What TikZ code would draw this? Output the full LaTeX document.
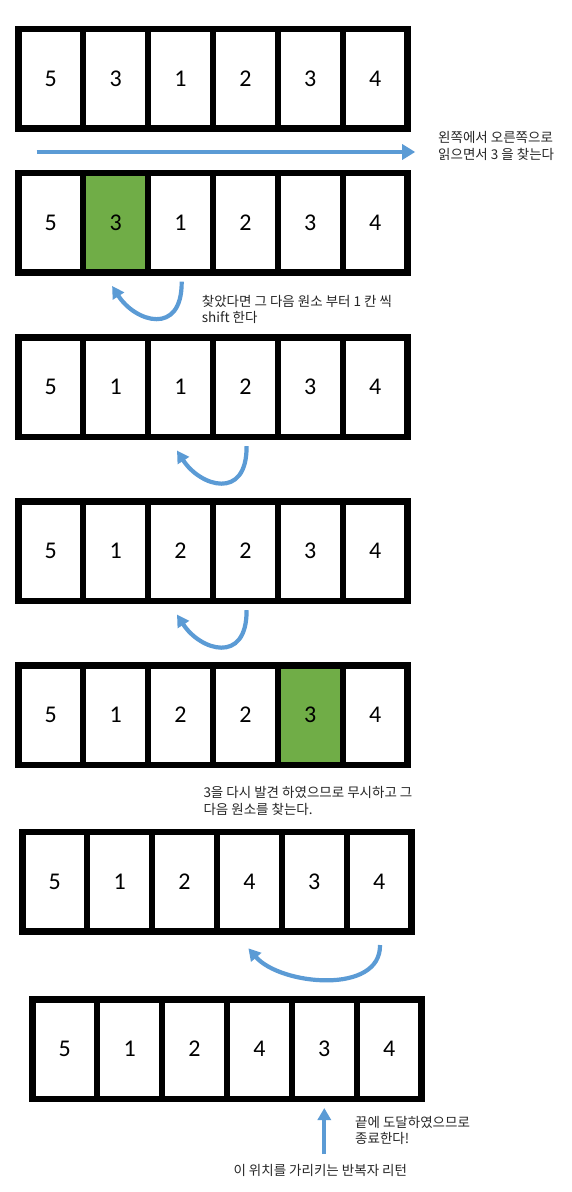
\documentclass[tikz,border=0pt]{standalone}
\usepackage{fontspec}
\setmainfont{Carlito}
\newfontfamily\krfont{Noto Sans CJK KR}
\usetikzlibrary{arrows.meta,calc}
\definecolor{arrowblue}{HTML}{5B9BD5}
\definecolor{cellgreen}{HTML}{70AD47}
\begin{document}
\begin{tikzpicture}[x=1pt,y=-1pt,
  cell/.style={draw=black, line width=6.5pt, minimum width=64.9pt, minimum height=99.5pt,
    inner sep=0pt, font=\fontsize{24}{28}\selectfont},
  note/.style={font=\krfont\fontsize{13.5}{16.5}\selectfont, align=left, anchor=west,
    inner sep=0pt, text=black!85},
  flow/.style={draw=arrowblue, line width=4.2pt, -{Triangle[length=12pt,width=13pt]}},
  bigflow/.style={draw=arrowblue, line width=4.6pt, -{Triangle[length=13pt,width=15pt]}}]
\fill[white] (0,0) rectangle (571,1192);
\useasboundingbox (0,0) rectangle (571,1192);

\foreach \row/\L/\T/\vals/\g in {
  1/15/25.5/{5,3,1,2,3,4}/0,
  2/15/169.5/{5,3,1,2,3,4}/2,
  3/15/334/{5,1,1,2,3,4}/0,
  4/15/498/{5,1,2,2,3,4}/0,
  5/15/662/{5,1,2,2,3,4}/5,
  6/19/828.5/{5,1,2,4,3,4}/0,
  7/29/996/{5,1,2,4,3,4}/0}{
  \foreach \v [count=\c] in \vals {
    \ifnum\c=\g \def\cf{cellgreen}\else\def\cf{white}\fi
    \node[cell, fill=\cf] (r\row c\c) at ({\L+3.25+64.9*(\c-0.5)},{\T+53}) {\v};
  }
}

% straight reading arrow
\coordinate (a0s) at ($(r1c1.south)+(-14,20.5)$);
\coordinate (a0e) at ($(r1c6.south)+(40,20.5)$);
\draw[bigflow] (a0s) -- (a0e);

% shift arrows
\coordinate (a1s) at ($(r2c3.south)+(1.2,6.2)$);
\coordinate (a1e) at ($(r2c2.south)+(-3.5,10.5)$);
\draw[flow] (a1s) .. controls ($(a1s)+(0.3,55)$) and ($(a1e)+(23,36)$) .. (a1e);

\coordinate (a2s) at ($(r3c4.south)+(1.2,6.2)$);
\coordinate (a2e) at ($(r3c3.south)+(-3.5,10.5)$);
\draw[flow] (a2s) .. controls ($(a2s)+(0.3,55)$) and ($(a2e)+(23,36)$) .. (a2e);

\coordinate (a3s) at ($(r4c4.south)+(1.2,6.2)$);
\coordinate (a3e) at ($(r4c3.south)+(-3.5,10.5)$);
\draw[flow] (a3s) .. controls ($(a3s)+(0.3,55)$) and ($(a3e)+(23,36)$) .. (a3e);

\coordinate (a4s) at ($(r6c6.south)+(0.8,10.5)$);
\coordinate (a4e) at ($(r6c4.south)+(-1,13.8)$);
\draw[flow] (a4s) .. controls ($(a4s)+(1,50)$) and ($(a4e)+(32,37)$) .. (a4e);

% pointer arrow
\coordinate (a5s) at ($(r7c5.south)+(0,52)$);
\coordinate (a5e) at ($(r7c5.south)+(0,6)$);
\draw[flow] (a5s) -- (a5e);

% notes
\node[note] (t1) at (438,145.7) {왼쪽에서 오른쪽으로\\읽으면서 3 을 찾는다};
\node[note] (t2) at (201.7,309.5) {찾았다면 그 다음 원소 부터 1 칸 씩\\shift 한다};
\node[note] (t3) at (203.3,801) {3을 다시 발견 하였으므로 무시하고 그\\다음 원소를 찾는다.};
\node[note] (t4) at (355,1130.5) {끝에 도달하였으므로\\종료한다!};
\node[note] (t5) at (233.3,1170) {이 위치를 가리키는 반복자 리턴};
\end{tikzpicture}
\end{document}
